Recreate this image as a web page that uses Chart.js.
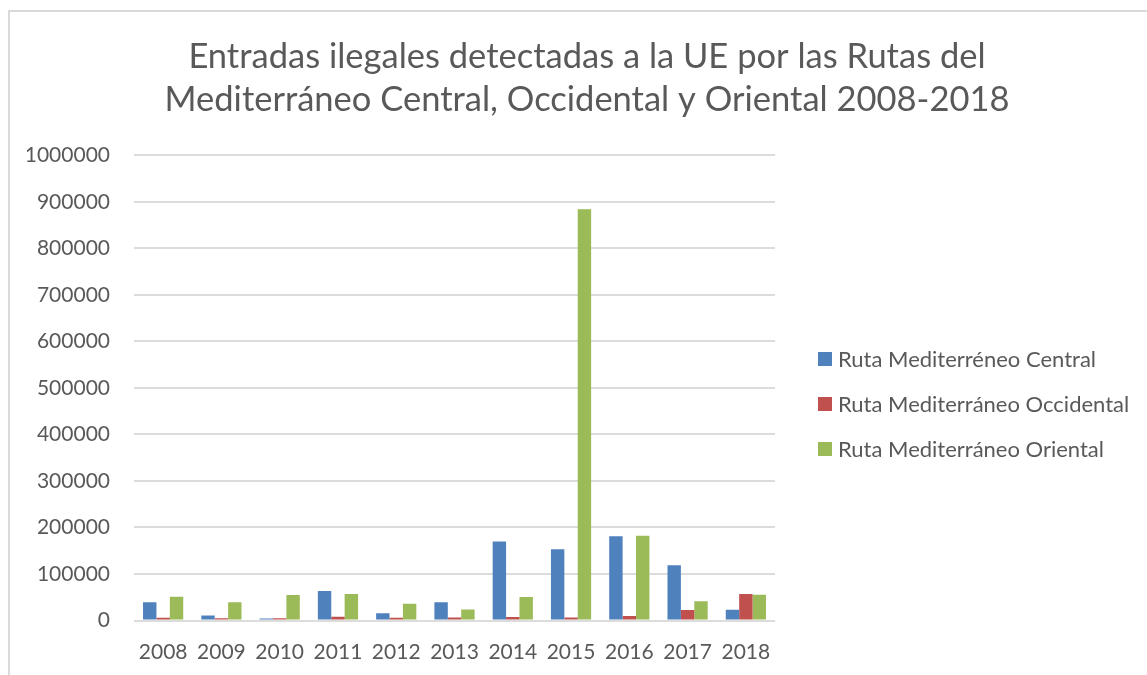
<!DOCTYPE html>
<html>
<head>
<meta charset="utf-8">
<script src="https://cdn.jsdelivr.net/npm/chart.js@4"></script>
<style>
html,body{margin:0;padding:0;background:#fff;overflow:hidden}
#wrap{position:relative;width:1147px;height:675px;overflow:hidden}
#frame{position:absolute;left:8px;top:10px;width:1300px;height:800px;border-top:2px solid #D9D9D9;border-left:2px solid #D9D9D9}
canvas{position:absolute;left:0;top:0}
#legend{position:absolute;left:0;top:0;font-family:Lato,sans-serif;font-size:22px;color:#595959}
.item{position:absolute;left:818px;height:24px;line-height:24px;white-space:nowrap}
.box{position:absolute;left:0;top:5px;width:14px;height:14px}
.txt{position:absolute;left:20px;top:0}
</style>
</head>
<body>
<div id="wrap">
<div id="frame"></div>
<canvas id="c" width="1147" height="675"></canvas>
<div id="legend"></div>
</div>
<script>
const titleLines = ["Entradas ilegales detectadas a la UE por las Rutas del", "Mediterráneo Central, Occidental y Oriental 2008-2018"];
const categories = ["2008","2009","2010","2011","2012","2013","2014","2015","2016","2017","2018"];
const seriesNames = ["Ruta Mediterréneo Central", "Ruta Mediterráneo Occidental", "Ruta Mediterráneo Oriental"];
const seriesColors = ["#4F81BD", "#C0504D", "#9BBB59"];
const central    = [39000, 11000, 4500, 63500, 15500, 39000, 170000, 153000, 181000, 119000, 23000];
const occidental = [6000, 5000, 5000, 8000, 6000, 6500, 7500, 6500, 9500, 22500, 57000];
const oriental   = [51000, 39000, 55000, 57000, 36000, 23500, 50500, 884000, 182000, 41500, 55500];
const seriesValues = [central, occidental, oriental];
const yMin = 0, yMax = 1000000, yStep = 100000;

const textColor = "#595959";
const gridColor = "#DCDCDC";

const datasets = seriesNames.map((name, i) => ({
  label: name,
  data: seriesValues[i],
  backgroundColor: seriesColors[i],
  borderWidth: 0,
  categoryPercentage: 0.69,
  barPercentage: 1.0
}));

new Chart(document.getElementById("c"), {
  type: "bar",
  data: { labels: categories, datasets },
  options: {
    responsive: false,
    animation: false,
    devicePixelRatio: 1,
    layout: { padding: { left: 27, right: 0, top: 0, bottom: 0 } },
    plugins: {
      legend: { display: false },
      tooltip: { enabled: false },
      title: {
        display: true,
        text: titleLines,
        color: textColor,
        font: { family: "Lato", size: 34.5, weight: "normal", lineHeight: 1.25 },
        padding: { top: 35, bottom: 34 }
      }
    },
    scales: {
      x: {
        grid: { display: false },
        border: { display: false },
        ticks: { color: textColor, font: { family: "Lato", size: 21 }, padding: 11, maxRotation: 0, autoSkip: false },
        afterFit: s => { s.height = 54.5; }
      },
      y: {
        min: yMin, max: yMax,
        grid: { color: gridColor, lineWidth: 2, drawTicks: false },
        border: { display: false },
        ticks: { stepSize: yStep, color: textColor, font: { family: "Lato", size: 21 }, padding: 24, callback: v => String(v) },
        afterFit: s => { s.width = 107; }
      },
      spacer: {
        type: "linear",
        position: "right",
        display: true,
        grid: { display: false },
        border: { display: false },
        ticks: { display: false },
        afterFit: s => { s.width = 372; }
      }
    }
  }
});

const legendEl = document.getElementById("legend");
const legendCenters = [359, 404, 449];
seriesNames.forEach((name, i) => {
  const it = document.createElement("div");
  it.className = "item";
  it.style.top = (legendCenters[i] - 12) + "px";
  const b = document.createElement("span");
  b.className = "box";
  b.style.background = seriesColors[i];
  const t = document.createElement("span");
  t.className = "txt";
  t.textContent = name;
  it.appendChild(b); it.appendChild(t);
  legendEl.appendChild(it);
});
</script>
</body>
</html>
